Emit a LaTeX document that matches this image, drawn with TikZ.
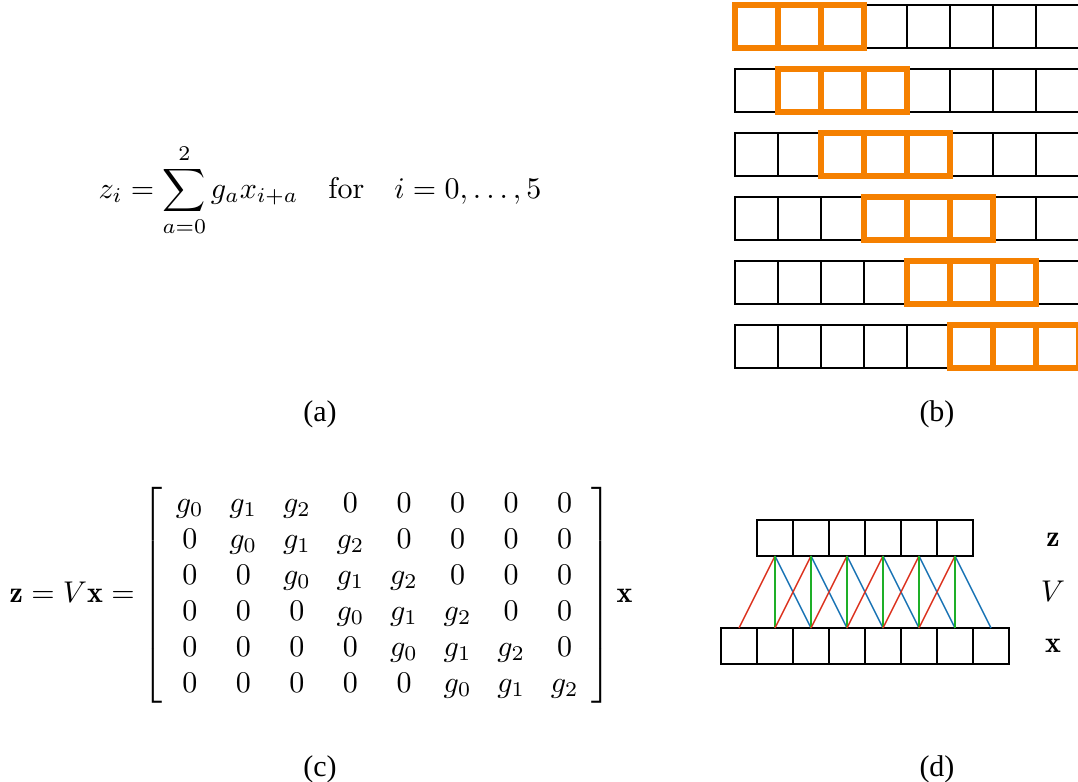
\documentclass[tikz,border=0pt]{standalone}
\usepackage{amsmath}
\usepackage{fontspec}
\newfontfamily\capfont{Liberation Serif}
\definecolor{filterorange}{RGB}{245,128,0}
\definecolor{gred}{RGB}{220,50,30}
\definecolor{ggreen}{RGB}{30,175,40}
\definecolor{gblue}{RGB}{25,115,180}
\begin{document}
\begin{tikzpicture}[x=0.33333pt,y=-0.33333pt,
  bcell/.style={draw=black, line width=0.67pt, minimum size=14.333pt, inner sep=0pt, outer sep=0pt},
  dcell/.style={draw=black, line width=0.67pt, minimum size=12pt, inner sep=0pt, outer sep=0pt},
  filt/.style={draw=filterorange, line width=2.3pt},
  captext/.style={font=\capfont, inner sep=0pt},
  redline/.style={draw=gred, line width=0.5pt},
  greenline/.style={draw=ggreen, line width=0.5pt},
  blueline/.style={draw=gblue, line width=0.5pt},
  eq/.style={inner sep=0pt}]
\useasboundingbox (0,0) rectangle (1078,782);

% (a) formula
\node[eq, anchor=base] (eqa) at (320,198)
  {$\displaystyle z_i = \sum_{a=0}^{2} g_a x_{i+a} \quad \text{for} \quad i = 0,\ldots,5$};

% (b) sliding filter
\foreach \r in {0,...,5} {
  \foreach \c in {0,...,7} {
    \node[bcell] (b-\r-\c) at ({756.5+43*\c},{26.5+64*\r}) {};
  }
}
\foreach \r in {0,...,5} {
  \foreach \k in {0,1,2} {
    \pgfmathtruncatemacro{\cc}{\r+\k}
    \draw[filt] (b-\r-\cc.north west) rectangle (b-\r-\cc.south east);
  }
}

% (c) matrix form
\node[eq] (eqc) at (321,595)
  {\arraycolsep=4.3pt%
  $\mathbf{z} = V\mathbf{x} = \left[\begin{array}{cccccccc}
  g_0 & g_1 & g_2 & 0 & 0 & 0 & 0 & 0\\
  0 & g_0 & g_1 & g_2 & 0 & 0 & 0 & 0\\
  0 & 0 & g_0 & g_1 & g_2 & 0 & 0 & 0\\
  0 & 0 & 0 & g_0 & g_1 & g_2 & 0 & 0\\
  0 & 0 & 0 & 0 & g_0 & g_1 & g_2 & 0\\
  0 & 0 & 0 & 0 & 0 & g_0 & g_1 & g_2
  \end{array}\right]\mathbf{x}$};

% (d) network
\foreach \i in {0,...,5} {
  \node[dcell] (z-\i) at ({775+36*\i},538) {};
}
\foreach \j in {0,...,7} {
  \node[dcell] (x-\j) at ({739+36*\j},646) {};
}
\foreach \i in {0,...,5} {
  \pgfmathtruncatemacro{\ja}{\i+1}
  \pgfmathtruncatemacro{\jb}{\i+2}
  \draw[redline] (z-\i.south) -- (x-\i.north);
  \draw[blueline] (z-\i.south) -- (x-\jb.north);
  \draw[greenline] (z-\i.south) -- (x-\ja.north);
}
\node[eq] (lz) at (1053,540) {$\mathbf{z}$};
\node[eq] (lV) at (1053,591) {$V$};
\node[eq] (lx) at (1053,646) {$\mathbf{x}$};

% captions
\node[captext] (capa) at (320,414) {(a)};
\node[captext] (capb) at (937,414) {(b)};
\node[captext] (capc) at (320,769) {(c)};
\node[captext] (capd) at (937,769) {(d)};
\end{tikzpicture}
\end{document}
